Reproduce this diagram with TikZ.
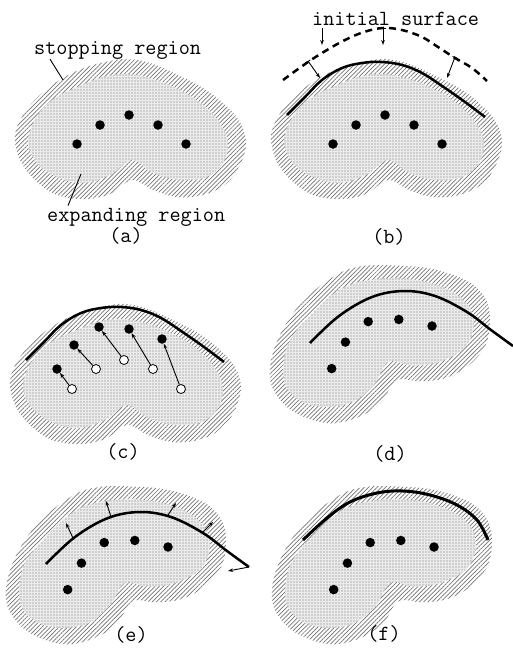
\documentclass[tikz,border=0pt]{standalone}
\usepackage{fontspec}
\usepackage{tikz}
\usetikzlibrary{arrows.meta, patterns.meta, calc}
\tikzset{
    stopzone/.style={pattern={Lines[angle=45, distance=3pt, line width=0.7pt]}, pattern color=black!55},
    growzone/.style={preaction={fill=black!8}, pattern={Dots[radius=0.65pt, distance=3pt]}, pattern color=black!55},
    seed/.style={circle, fill=black, minimum size=9.5pt, inner sep=0pt},
    oldseed/.style={circle, draw, fill=white, line width=0.8pt, minimum size=9pt, inner sep=0pt},
    front/.style={line width=2.5pt},
    initfront/.style={line width=2.5pt, dash pattern=on 7pt off 5pt},
    leader/.style={line width=0.9pt},
    lbl/.style={font=\ttfamily\fontsize{21.6}{24}\selectfont, inner sep=0pt},
    pics/blob/.style={code={
        \fill[stopzone] plot[smooth cycle, tension=0.6] coordinates {(-115,6) (-107,-15) (-90,-35) (-67,-52) (-43,-63) (-20,-69) (0,-71) (23,-66) (50,-54) (73,-42) (93,-27) (110,-8) (116,13) (110,35) (96,54) (73,65) (47,67) (23,60) (2,50) (-20,64) (-45,69) (-73,65) (-95,50) (-110,30)};
        \fill[growzone] plot[smooth cycle, tension=0.6] coordinates {(-102,12) (-94,-12) (-78,-30) (-53,-43) (-27,-53) (-3,-56) (23,-51) (50,-40) (73,-25) (90,-7) (98,13) (93,33) (77,47) (50,50) (23,43) (2,30) (-20,45) (-47,53) (-73,47) (-93,33)};
    }},
    pics/seeds/.style={code={
        \node[seed] (-1) at (-53,14) {};
        \node[seed] (-2) at (-30,-5) {};
        \node[seed] (-3) at (-1,-15) {};
        \node[seed] (-4) at (28,-5) {};
        \node[seed] (-5) at (56,14) {};
    }}
}

\begin{document}
\begin{tikzpicture}[x=1pt, y=-1pt, >={Stealth[length=5pt, width=3.6pt]}]
% six stages of the surface between seed points and the stopping band
\useasboundingbox (0,0) rectangle (513,648);

% (a)
\begin{scope}[shift={(130,130)}]
  \pic {blob};
  \pic (sa) {seeds};
  \coordinate (stopend) at (-67,-50);
  \coordinate (growend) at (-49,44);
\end{scope}
\node[lbl, anchor=base west] (stoptxt) at (34,54) {stopping region};
\node[lbl, anchor=base west] (growtxt) at (47,221) {expanding region};
\draw[leader] ($(stoptxt.south west)+(16,0)$) -- (stopend);
\draw[leader] ($(growtxt.north west)+(21,-2)$) -- (growend);
\node[lbl] (capa) at (126,236) {(a)};

% (b)
\begin{scope}[shift={(386,130)}]
  \pic {blob};
  \pic (sb) {seeds};
  \draw[initfront] plot[smooth, tension=0.6] coordinates {(-103,-50) (-78,-68) (-59,-80) (-41,-90) (-22,-98) (-3,-102) (16,-100) (36,-93) (52,-83) (69,-72) (86,-62) (101,-49)};
  \draw[front] plot[smooth, tension=0.6] coordinates {(-99,-15) (-81,-33) (-64,-50) (-44,-62) (-24,-67) (-4,-68) (16,-65) (36,-57) (59,-42) (79,-28) (99,-13)};
  \coordinate (bl0) at (-78,-69);
  \coordinate (bl1) at (-66,-52);
  \coordinate (bm0) at (-3,-102);
  \coordinate (bm1) at (-3,-85);
  \coordinate (br0) at (69,-73);
  \coordinate (br1) at (61,-52);
  \coordinate (initend) at (-64,-85);
\end{scope}
\draw[leader, {Bar[width=5pt]}->] (bl0) -- (bl1);
\draw[leader, {Bar[width=5pt]}->] (bm0) -- (bm1);
\draw[leader, {Bar[width=5pt]}->] (br0) -- (br1);
\node[lbl, anchor=base west] (inittxt) at (312,25) {initial surface};
\draw[leader, ->] ($(initend |- inittxt.south)+(0,3)$) -- (initend);
\node[lbl] (capb) at (389,237) {(b)};

% (c)
\begin{scope}[shift={(125,375)}]
  \pic {blob};
  \draw[front] plot[smooth, tension=0.6] coordinates {(-99,-15) (-81,-33) (-64,-50) (-44,-62) (-24,-67) (-4,-68) (16,-65) (36,-57) (59,-42) (79,-28) (99,-13)};
  \node[oldseed] (o1) at (-53,14) {};
  \node[oldseed] (o2) at (-29,-6) {};
  \node[oldseed] (o3) at (-1,-15) {};
  \node[oldseed] (o4) at (28,-6) {};
  \node[oldseed] (o5) at (56,14) {};
  \node[seed] (c1) at (-68,-6) {};
  \node[seed] (c2) at (-51,-30) {};
  \node[seed] (c3) at (-26,-48) {};
  \node[seed] (c4) at (4,-46) {};
  \node[seed] (c5) at (37,-36) {};
\end{scope}
\draw[leader, ->] (o1) -- (c1);
\draw[leader, ->] (o2) -- (c2);
\draw[leader, ->] (o3) -- (c3);
\draw[leader, ->] (o4) -- (c4);
\draw[leader, ->] (o5) -- (c5);
\node[lbl] (capc) at (123,452) {(c)};

% (d)
\begin{scope}[shift={(375,335)}]
  \pic[rotate=23] {blob};
  \pic[rotate=23] (sd) {seeds};
  \draw[front] plot[smooth, tension=0.6] coordinates {(-65,8) (-36,-19) (-3,-38) (29,-44) (60,-39) (92,-23) (116,-5) (138,11)};
\end{scope}
\node[lbl] (capd) at (390,454) {(d)};

% (e)
\begin{scope}[shift={(111,556)}]
  \pic[rotate=23] {blob};
  \pic[rotate=23] (se) {seeds};
  \draw[front] plot[smooth, tension=0.6] coordinates {(-65,8) (-36,-19) (-3,-38) (29,-44) (60,-39) (92,-23) (116,-5) (138,11)};
  \coordinate (e1) at (-38,-18);
  \coordinate (f1) at (-45,-33);
  \coordinate (e2) at (0,-39);
  \coordinate (f2) at (-5,-55);
  \coordinate (e3) at (57,-41);
  \coordinate (f3) at (65,-53);
  \coordinate (e4) at (92,-24);
  \coordinate (f4) at (102,-34);
  \coordinate (e5) at (138,11);
  \coordinate (f5) at (117,15);
\end{scope}
\draw[leader, ->] (e1) -- (f1);
\draw[leader, ->] (e2) -- (f2);
\draw[leader, ->] (e3) -- (f3);
\draw[leader, ->] (e4) -- (f4);
\draw[leader, ->] (e5) -- (f5);
\node[lbl] (cape) at (131,635) {(e)};

% (f)
\begin{scope}[shift={(377,556)}]
  \pic[rotate=23] {blob};
  \pic[rotate=23] (sf) {seeds};
  \draw[front, line width=3pt] plot[smooth, tension=0.6] coordinates {(-74,-16) (-50,-38) (-27,-54) (0,-63) (26,-65) (53,-61) (80,-51) (100,-36) (111,-16)};
\end{scope}
\node[lbl] (capf) at (384,634) {(f)};
\end{tikzpicture}
\end{document}
